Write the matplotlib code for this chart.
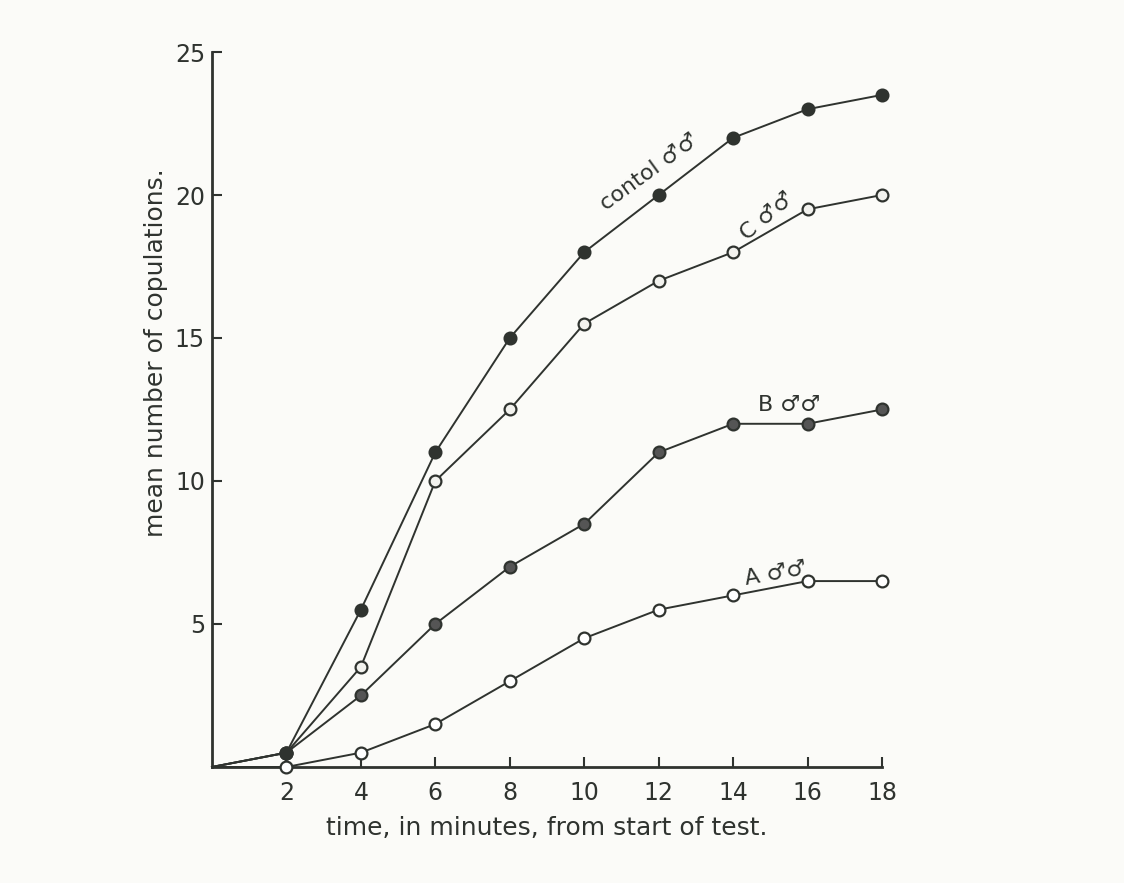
import matplotlib.pyplot as plt

minutes = [0, 2, 4, 6, 8, 10, 12, 14, 16, 18]
control = [0, 0.5, 5.5, 11, 15, 18, 20, 22, 23, 23.5]
group_c = [0, 0.5, 3.5, 10, 12.5, 15.5, 17, 18, 19.5, 20]
group_b = [0, 0.5, 2.5, 5, 7, 8.5, 11, 12, 12, 12.5]
group_a = [0, 0, 0.5, 1.5, 3, 4.5, 5.5, 6, 6.5, 6.5]

x_ticks = [2, 4, 6, 8, 10, 12, 14, 16, 18]
y_ticks = [5, 10, 15, 20, 25]

ink = '#2f332f'
fig = plt.figure(figsize=(11.24, 8.83), dpi=100, facecolor='#fbfbf8')
ax = fig.add_axes([0.1886, 0.1314, 0.5961, 0.8097])
ax.set_facecolor('#fbfbf8')

mk = dict(markevery=range(1, 10), markersize=8.5, markeredgewidth=1.6,
          markeredgecolor=ink, color=ink, lw=1.4, clip_on=False, zorder=3)
ax.plot(minutes, group_a, marker='o', markerfacecolor='white', **mk)
ax.plot(minutes, group_b, marker='o', markerfacecolor='#555555', **mk)
ax.plot(minutes, group_c, marker='o', markerfacecolor='#f2f2ee', **mk)
ax.plot(minutes, control, marker='o', markerfacecolor=ink, **mk)

ax.set_xlim(0, 18)
ax.set_ylim(0, 25)
ax.set_xticks(x_ticks)
ax.set_yticks(y_ticks)
ax.tick_params(direction='in', length=7, width=1.5, color=ink,
               labelsize=17, labelcolor=ink)
ax.tick_params(axis='x', pad=10)
ax.tick_params(axis='y', pad=5)
for side in ['top', 'right']:
    ax.spines[side].set_visible(False)
for side in ['left', 'bottom']:
    ax.spines[side].set_linewidth(2)
    ax.spines[side].set_color(ink)

ax.set_xlabel('time, in minutes, from start of test.', fontsize=18,
              color=ink, labelpad=8)
ax.set_ylabel('mean number of copulations.', fontsize=18, color=ink)
ax.yaxis.set_label_coords(-0.066, 0.58)

ax.text(11.9, 20.5, 'contol \u2642\u2642', rotation=36, fontsize=16,
        color=ink, ha='center', va='bottom', rotation_mode='anchor')
ax.text(15.1, 19.0, 'C \u2642\u2642', rotation=40, fontsize=16,
        color=ink, ha='center', va='bottom', rotation_mode='anchor')
ax.text(15.5, 12.3, 'B \u2642\u2642', fontsize=16, color=ink,
        ha='center', va='bottom')
ax.text(15.2, 6.4, 'A \u2642\u2642', rotation=10, fontsize=16, color=ink,
        ha='center', va='bottom', rotation_mode='anchor')

fig.savefig('out.png', dpi=100, facecolor=fig.get_facecolor())
